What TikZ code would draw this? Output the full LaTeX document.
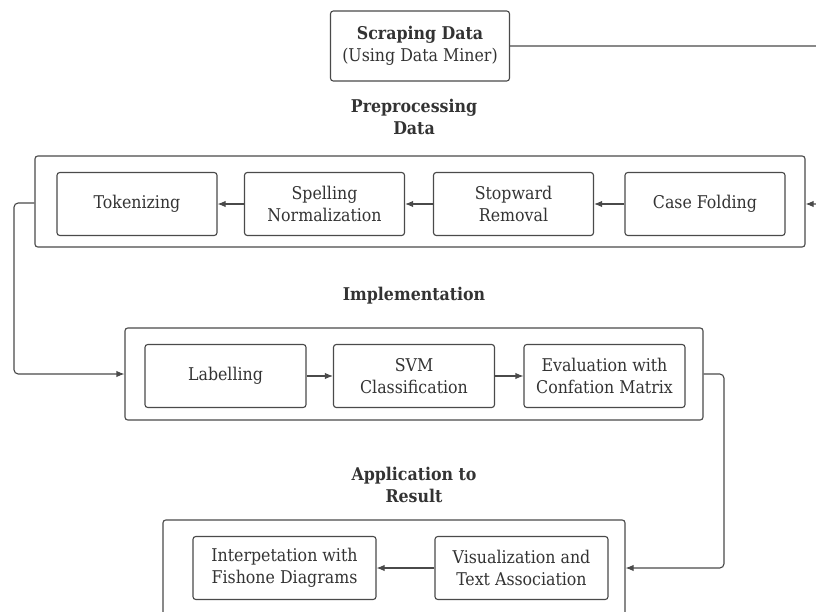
\documentclass[tikz,border=0pt]{standalone}
\usepackage{fontspec}
\setmainfont{DejaVu Serif Condensed}
\usetikzlibrary{arrows.meta}

\definecolor{linegray}{HTML}{4A4A4A}
\definecolor{textgray}{HTML}{333333}

\tikzset{
    stepbox/.style={draw=linegray, line width=0.8pt, rounded corners=2pt, minimum width=4cm, minimum height=1.575cm, align=center, text=textgray, font=\fontsize{12.5}{15.5}\selectfont},
    groupbox/.style={draw=linegray, line width=0.8pt, rounded corners=2pt},
    grouptitle/.style={align=center, text=textgray, font=\fontsize{12.5}{15.5}\selectfont\bfseries},
    flow/.style={draw=linegray, line width=0.8pt, rounded corners=3pt, -{Latex[length=2mm,width=1.6mm]}}
}

\begin{document}
\begin{tikzpicture}

    \clip (0,0) rectangle (20.4,-15.3);

    
    \node[stepbox, minimum width=4.475cm, minimum height=1.75cm] (scrap) at (10.5,-1.15) {\textbf{Scraping Data}\\(Using Data Miner)};

    
    \node[grouptitle] (preptitle) at (10.35,-2.925) {Preprocessing\\Data};
    \node[groupbox, minimum width=19.25cm, minimum height=2.275cm] (prep) at (10.5,-5.0375) {};
    \node[stepbox] (tok) at (3.425,-5.1) {Tokenizing};
    \node[stepbox] (spell) at (8.1125,-5.1) {Spelling\\Normalization};
    \node[stepbox] (stop) at (12.8375,-5.1) {Stopward\\Removal};
    \node[stepbox] (case) at (17.625,-5.1) {Case Folding};

    
    \node[grouptitle] (impltitle) at (10.35,-7.4) {Implementation};
    \node[groupbox, minimum width=14.45cm, minimum height=2.3cm] (impl) at (10.35,-9.35) {};
    \node[stepbox, minimum width=4.025cm] (lab) at (5.6375,-9.4) {Labelling};
    \node[stepbox, minimum width=4.025cm] (svm) at (10.35,-9.4) {SVM\\Classification};
    \node[stepbox, minimum width=4.025cm] (eval) at (15.1125,-9.4) {Evaluation with\\Confation Matrix};

    
    \node[grouptitle] (apptitle) at (10.35,-12.125) {Application to\\Result};
    \node[groupbox, minimum width=11.55cm, minimum height=3cm] (app) at (9.85,-14.5) {};
    \node[stepbox, minimum width=4.575cm] (interp) at (7.1125,-14.2) {Interpetation with\\Fishone Diagrams};
    \node[stepbox, minimum width=4.325cm] (vis) at (13.0375,-14.2) {Visualization and\\Text Association};

    
    \coordinate (rt) at (21,-1.15);
    \coordinate (lft) at (0.35,-5.075);
    \coordinate (rgt) at (18.1,-9.35);

    \draw[flow] (scrap.east) -- (rt) |- (prep.east |- case.east);
    \draw[flow] (case) -- (stop);
    \draw[flow] (stop) -- (spell);
    \draw[flow] (spell) -- (tok);
    \draw[flow] (prep.west |- lft) -- (lft) |- (impl.west);
    \draw[flow] (lab) -- (svm);
    \draw[flow] (svm) -- (eval);
    \draw[flow] (impl.east) -- (rgt) |- (app.east |- vis.east);
    \draw[flow] (vis) -- (interp);
\end{tikzpicture}
\end{document}
